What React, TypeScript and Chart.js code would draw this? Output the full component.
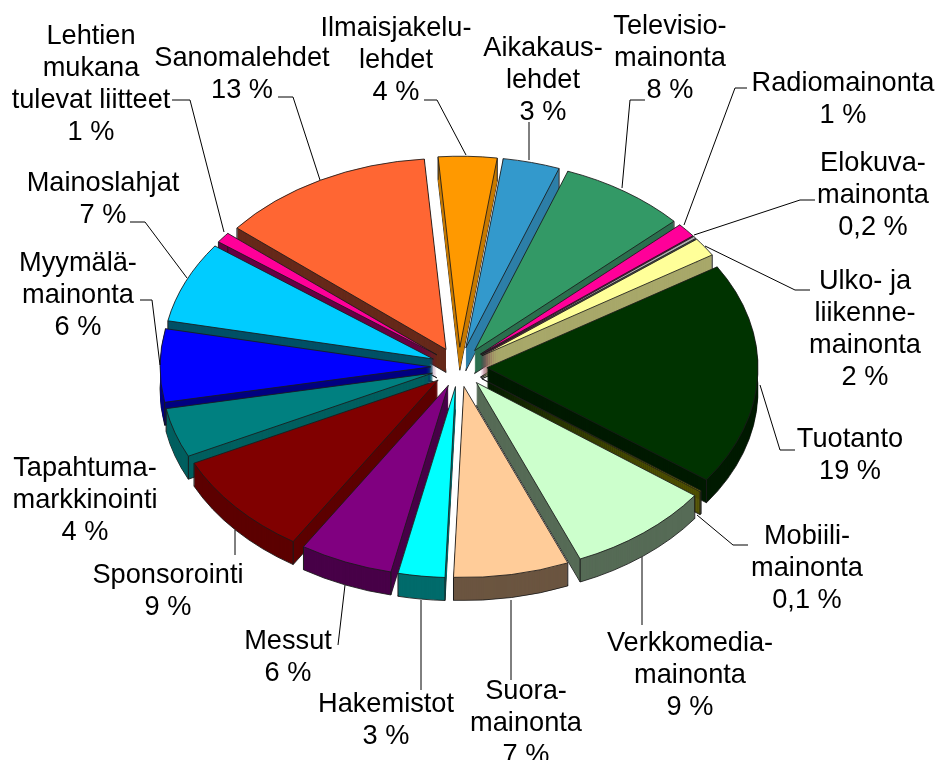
import React, { useEffect, useRef } from "react";
import { Chart, registerables } from "chart.js";

Chart.register(...registerables);

const categories = [
  ["Sanomalehdet"],
  ["Ilmaisjakelu-", "lehdet"],
  ["Aikakaus-", "lehdet"],
  ["Televisio-", "mainonta"],
  ["Radiomainonta"],
  ["Elokuva-", "mainonta"],
  ["Ulko- ja", "liikenne-", "mainonta"],
  ["Tuotanto"],
  ["Mobiili-", "mainonta"],
  ["Verkkomedia-", "mainonta"],
  ["Suora-", "mainonta"],
  ["Hakemistot"],
  ["Messut"],
  ["Sponsorointi"],
  ["Tapahtuma-", "markkinointi"],
  ["Myymälä-", "mainonta"],
  ["Mainoslahjat"],
  ["Lehtien", "mukana", "tulevat liitteet"],
];
const shares = [12.8, 3.5, 3.4, 7.6, 1.2, 0.2, 1.6, 18.9, 0.1, 8.7, 6.9, 2.8, 5.6, 8.9, 4.2, 6.2, 6.9, 0.9];
const shareLabels = ["13 %", "4 %", "3 %", "8 %", "1 %", "0,2 %", "2 %", "19 %", "0,1 %", "9 %", "7 %", "3 %", "6 %", "9 %", "4 %", "6 %", "7 %", "1 %"];

const topColors = ["#ff6633", "#ff9900", "#3399cc", "#339966", "#ff0099", "#b0b0b0", "#ffff99", "#003300", "#808000", "#ccffcc", "#ffcc99", "#00ffff", "#800080", "#800000", "#008080", "#0000ff", "#00ccff", "#ff0099"];
const sideColors = ["#66291a", "#c77a00", "#2d7fa8", "#2b6f4e", "#8a0055", "#505050", "#a8a86a", "#001a00", "#505000", "#566b56", "#6b5540", "#006b6b", "#480048", "#5c0000", "#005f5f", "#000080", "#005066", "#660044"];

// label layout: centre x, centre y of first text line, line pitch is constant
const labelAt: [number, number][] = [
  [242, 59], [396, 29], [543, 49], [670, 27], [843, 84], [873, 164], [865, 282], [850, 440], [807, 537],
  [690, 644], [526, 692], [386, 705], [288, 642], [168, 576], [85, 469], [78, 264], [103, 184], [91, 37],
];
const leaders: number[][][] = [
  [[278, 97], [293, 97], [320, 180]],
  [[424, 100], [437, 100], [466, 155]],
  [[529, 122], [529, 160]],
  [[645, 100], [630, 100], [622, 188]],
  [[747, 88], [735, 88], [684, 225]],
  [[815, 200], [800, 200], [694, 235]],
  [[810, 290], [795, 290], [705, 246]],
  [[795, 450], [780, 450], [760, 385]],
  [[748, 545], [733, 545], [697, 515]],
  [[642, 625], [642, 557]],
  [[511, 680], [511, 600]],
  [[421, 690], [421, 600]],
  [[338, 645], [345, 585]],
  [[235, 555], [235, 530]],
  [],
  [[140, 300], [152, 300], [160, 365]],
  [[130, 222], [145, 222], [187, 278]],
  [[172, 100], [190, 100], [224, 232]],
];

const TILT = 0.705;
const EXPLODE = 28;
const DEPTH = 23;

const pie3d = {
  id: "pie3d",
  beforeDatasetsDraw(chart: any) {
    const ctx = chart.ctx as CanvasRenderingContext2D;
    const arcs: any[] = chart.getDatasetMeta(0).data;
    const mid = (a: any) => (a.startAngle + a.endAngle) / 2;
    const order = arcs.map((_, i) => i).sort((a, b) => Math.sin(mid(arcs[a])) - Math.sin(mid(arcs[b])));

    const place = (arc: any, d: number) => {
      ctx.translate(arc.x, arc.y + d);
      ctx.scale(1, TILT);
      ctx.translate(-arc.x, -arc.y);
      ctx.translate(Math.cos(mid(arc)) * EXPLODE, Math.sin(mid(arc)) * EXPLODE);
    };
    const paint = (arc: any, fill: string, border: number, d: number) => {
      const saved = arc.options;
      arc.options = Object.assign(Object.create(saved), {
        backgroundColor: fill,
        borderColor: "#1a1a1a",
        borderWidth: border,
        offset: 0,
      });
      ctx.save();
      place(arc, d);
      arc.draw(ctx);
      ctx.restore();
      arc.options = saved;
    };

    for (const i of order) {
      const arc = arcs[i];
      paint(arc, sideColors[i], 1, DEPTH);
      for (let d = DEPTH - 1; d > 0; d--) paint(arc, sideColors[i], 0, d);
      // vertical corner edges of the wall
      const ox = arc.x + Math.cos(mid(arc)) * EXPLODE;
      const oy = arc.y + Math.sin(mid(arc)) * EXPLODE * TILT;
      ctx.strokeStyle = "#1a1a1a";
      ctx.lineWidth = 1;
      for (const ang of [arc.startAngle, arc.endAngle]) {
        const px = ox + Math.cos(ang) * arc.outerRadius;
        const py = oy + Math.sin(ang) * arc.outerRadius * TILT;
        ctx.beginPath();
        ctx.moveTo(px, py);
        ctx.lineTo(px, py + DEPTH);
        ctx.stroke();
      }
      paint(arc, topColors[i], 1, 0);
    }
    return false;
  },
  afterDraw(chart: any) {
    const ctx = chart.ctx as CanvasRenderingContext2D;
    ctx.save();
    ctx.strokeStyle = "#000";
    ctx.lineWidth = 1;
    leaders.forEach((pts) => {
      if (!pts.length) return;
      ctx.beginPath();
      pts.forEach(([x, y], j) => (j ? ctx.lineTo(x, y) : ctx.moveTo(x, y)));
      ctx.stroke();
    });
    ctx.fillStyle = "#000";
    ctx.font = '27.2px "Liberation Sans"';
    ctx.textAlign = "center";
    ctx.textBaseline = "middle";
    categories.forEach((lines, i) => {
      const [x, y] = labelAt[i];
      [...lines, shareLabels[i]].forEach((t, j) => ctx.fillText(t, x, y + j * 31.7));
    });
    ctx.restore();
  },
};

export default function App() {
  const ref = useRef<HTMLCanvasElement>(null);
  useEffect(() => {
    const chart = new Chart(ref.current!, {
      type: "pie",
      data: {
        labels: categories.map((c) => c.join(" ")),
        datasets: [{ data: shares, backgroundColor: topColors, borderColor: "#1a1a1a", borderWidth: 1 }],
      },
      options: {
        responsive: false,
        animation: false,
        rotation: -50.5,
        radius: 271,
        layout: { padding: { right: 19, bottom: 26 } },
        plugins: { legend: { display: false }, tooltip: { enabled: false } },
      },
      plugins: [pie3d],
    } as any);
    return () => chart.destroy();
  }, []);
  return (
    <canvas
      ref={ref}
      width={937}
      height={760}
      style={{ position: "absolute", left: 0, top: 0, display: "block", width: 937, height: 760 }}
    />
  );
}
